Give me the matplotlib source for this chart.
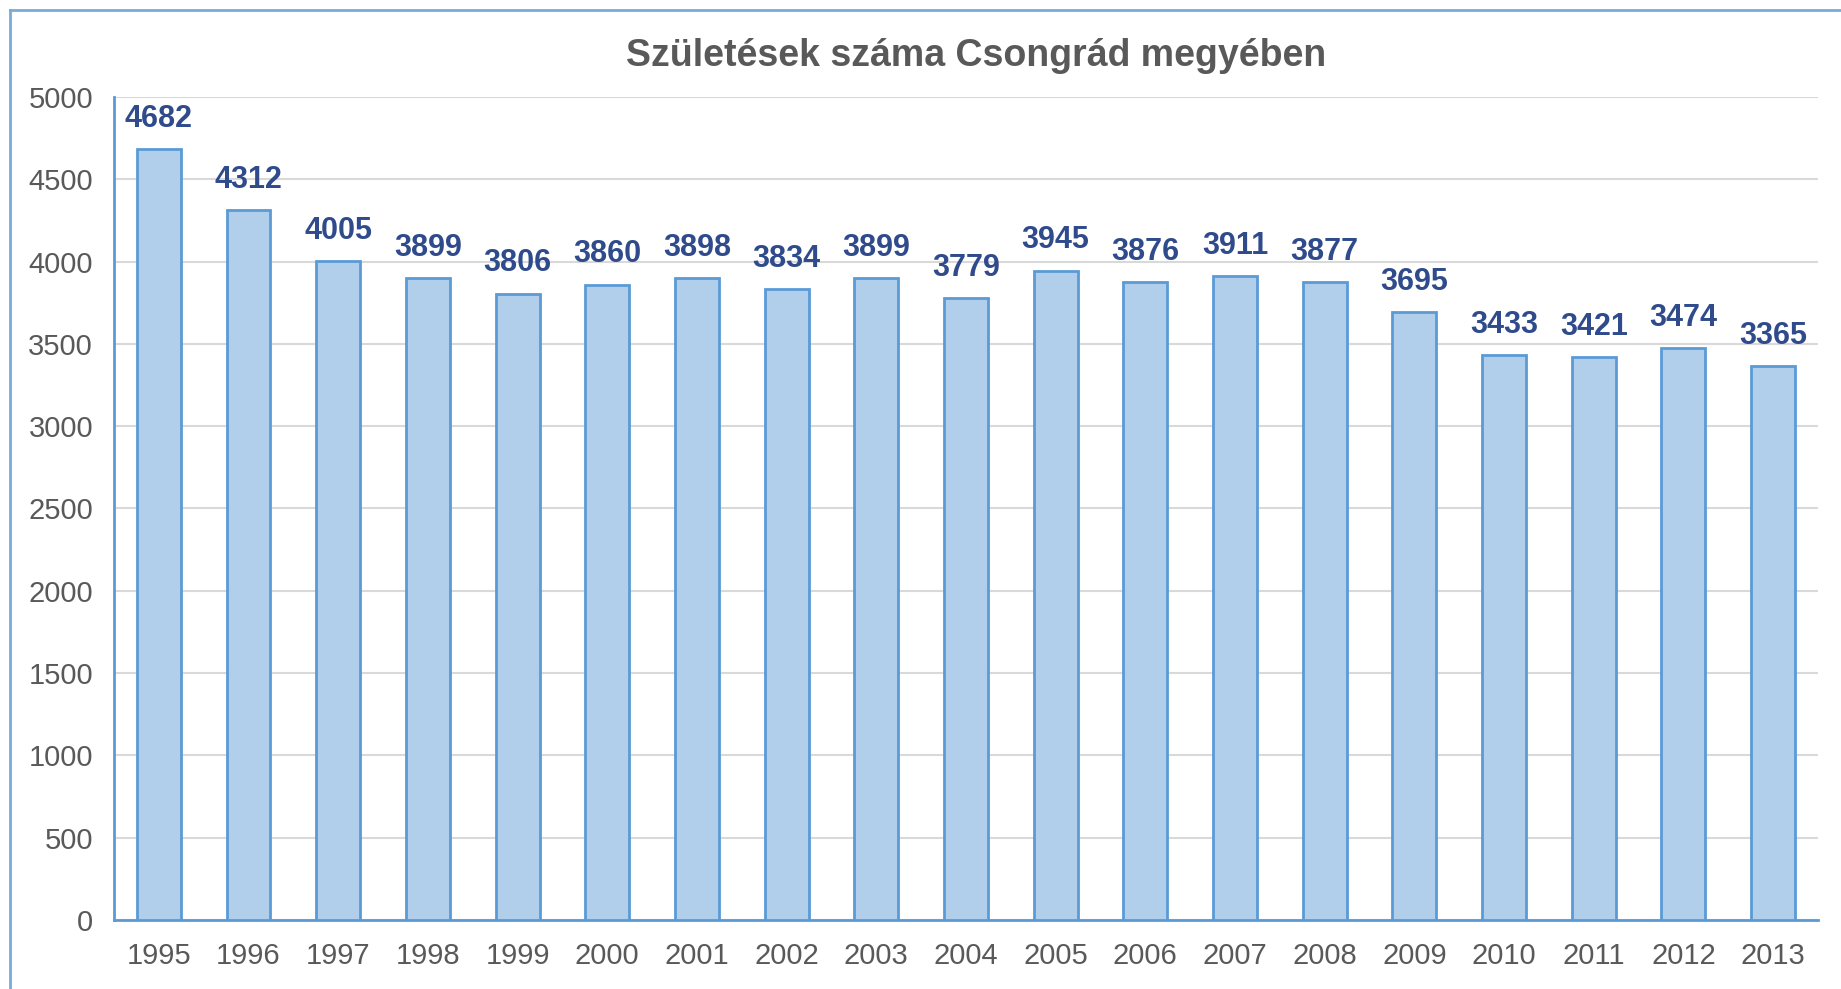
import matplotlib
matplotlib.use('Agg')
import matplotlib.pyplot as plt
from matplotlib.lines import Line2D

# adatok
evek = ['1995', '1996', '1997', '1998', '1999', '2000', '2001', '2002', '2003', '2004',
        '2005', '2006', '2007', '2008', '2009', '2010', '2011', '2012', '2013']
szuletesek = [4682, 4312, 4005, 3899, 3806, 3860, 3898, 3834, 3899, 3779,
              3945, 3876, 3911, 3877, 3695, 3433, 3421, 3474, 3365]
y_ticks = [0, 500, 1000, 1500, 2000, 2500, 3000, 3500, 4000, 4500, 5000]

plt.rcParams['font.family'] = ['Liberation Sans', 'DejaVu Sans']

fig = plt.figure(figsize=(18.41, 9.89), dpi=100)
ax = fig.add_axes([0.0619, 0.0698, 0.9256, 0.8321])

x = range(len(evek))
bars = ax.bar(x, szuletesek, width=0.49, color='#b1cfeb', edgecolor='#5b9bd5',
              linewidth=2, zorder=3)

for xi, v in zip(x, szuletesek):
    ax.annotate(str(v), (xi, v), xytext=(0, 11), textcoords='offset points',
                ha='center', va='bottom', fontsize=22, fontweight='bold',
                color='#2f4b8c')

ax.set_xlim(-0.5, len(evek) - 0.5)
ax.set_ylim(0, 5000)
ax.set_yticks(y_ticks)
ax.set_xticks(list(x))
ax.set_xticklabels(evek)
ax.tick_params(axis='both', length=0, labelsize=21, labelcolor='#595959')
ax.tick_params(axis='y', pad=15)
ax.tick_params(axis='x', pad=16)

ax.grid(axis='y', color='#d9d9d9', linewidth=1.5, zorder=0)
ax.set_axisbelow(True)
for s in ['top', 'right']:
    ax.spines[s].set_visible(False)
for s in ['left', 'bottom']:
    ax.spines[s].set_color('#5b9bd5')
    ax.spines[s].set_linewidth(2)

fig.text(0.53, 0.943, 'Születések száma Csongrád megyében', ha='center', va='center',
         fontsize=27, fontweight='bold', color='#595959')

# keret (bal és felső oldal)
bx, by = 10 / 1841, 1 - 10 / 989
fig.add_artist(Line2D([bx, bx], [0, by], transform=fig.transFigure, color='#7aaadc', linewidth=2))
fig.add_artist(Line2D([bx, 1], [by, by], transform=fig.transFigure, color='#7aaadc', linewidth=2))

fig.savefig('out.png', dpi=100)
